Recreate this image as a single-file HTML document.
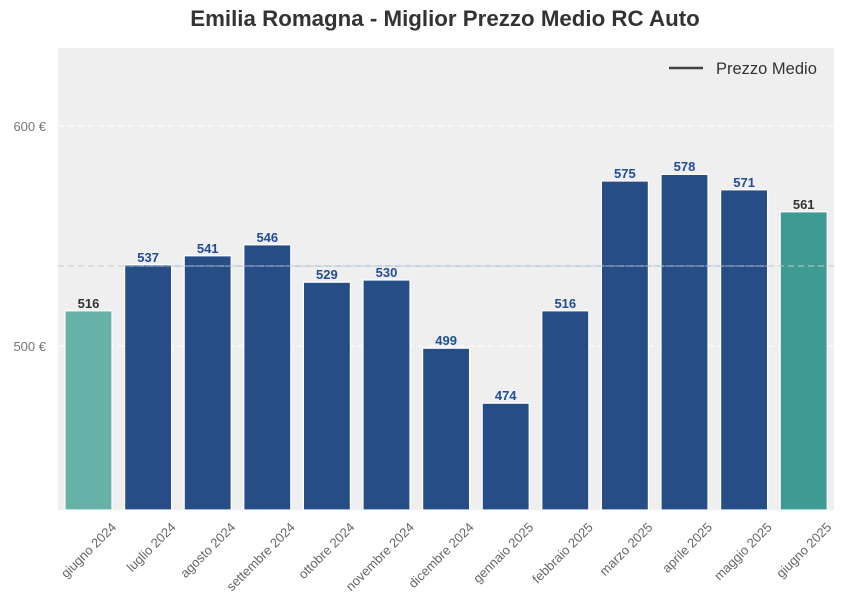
<!DOCTYPE html>
<html><head><meta charset="utf-8"><style>body{margin:0;background:#fff}svg{display:block}text{font-family:"Liberation Sans",Arial,sans-serif}</style></head>
<body>
<svg width="845" height="610" xmlns="http://www.w3.org/2000/svg">
<text x="445" y="26" text-anchor="middle" font-size="22.3" font-weight="bold" fill="#333">Emilia Romagna - Miglior Prezzo Medio RC Auto</text>
<rect x="58" y="48" width="776" height="462" fill="#efefef"/>
<line x1="58" y1="126" x2="834" y2="126" stroke="#fff" stroke-dasharray="6,4" stroke-width="1"/>
<line x1="58" y1="346" x2="834" y2="346" stroke="#fff" stroke-dasharray="6,4" stroke-width="1"/>
<text x="46" y="131" text-anchor="end" font-size="13" fill="#777">600 €</text>
<text x="46" y="351" text-anchor="end" font-size="13" fill="#777">500 €</text>
<g id="bars" stroke="#fff" stroke-width="1.2">
<rect x="65" y="310.8" width="47" height="199.2" fill="#66b2a8"/>
<rect x="124.6" y="264.6" width="47" height="245.4" fill="#264d86"/>
<rect x="184.2" y="255.8" width="47" height="254.2" fill="#264d86"/>
<rect x="243.8" y="244.8" width="47" height="265.2" fill="#264d86"/>
<rect x="303.4" y="282.2" width="47" height="227.8" fill="#264d86"/>
<rect x="363" y="280" width="47" height="230" fill="#264d86"/>
<rect x="422.6" y="348.2" width="47" height="161.8" fill="#264d86"/>
<rect x="482.2" y="403.2" width="47" height="106.8" fill="#264d86"/>
<rect x="541.8" y="310.8" width="47" height="199.2" fill="#264d86"/>
<rect x="601.4" y="181" width="47" height="329" fill="#264d86"/>
<rect x="661" y="174.4" width="47" height="335.6" fill="#264d86"/>
<rect x="720.6" y="189.8" width="47" height="320.2" fill="#264d86"/>
<rect x="780.2" y="211.8" width="47" height="298.2" fill="#3d9b93"/>
</g>
<line x1="58" y1="266" x2="834" y2="266" stroke="#c8c8c8" stroke-dasharray="6,4" stroke-width="1"/>
<line x1="124.6" y1="266" x2="767.6" y2="266" stroke="#9fb4d4" stroke-dasharray="6,4" stroke-width="1"/>
<g font-size="13" font-weight="bold" text-anchor="middle" fill="#1f4e96">
<text x="88.5" y="308" fill="#333">516</text>
<text x="148.1" y="262">537</text>
<text x="207.7" y="253">541</text>
<text x="267.3" y="242">546</text>
<text x="326.9" y="279">529</text>
<text x="386.5" y="277">530</text>
<text x="446.1" y="345">499</text>
<text x="505.7" y="400">474</text>
<text x="565.3" y="308">516</text>
<text x="624.9" y="178">575</text>
<text x="684.5" y="171">578</text>
<text x="744.1" y="187">571</text>
<text x="803.7" y="209" fill="#333">561</text>
</g>
<g font-size="13" fill="#666" text-anchor="end">
<text transform="translate(117,528) rotate(-45)">giugno 2024</text>
<text transform="translate(176.6,528) rotate(-45)">luglio 2024</text>
<text transform="translate(236.2,528) rotate(-45)">agosto 2024</text>
<text transform="translate(295.8,528) rotate(-45)">settembre 2024</text>
<text transform="translate(355.4,528) rotate(-45)">ottobre 2024</text>
<text transform="translate(415,528) rotate(-45)">novembre 2024</text>
<text transform="translate(474.6,528) rotate(-45)">dicembre 2024</text>
<text transform="translate(534.2,528) rotate(-45)">gennaio 2025</text>
<text transform="translate(593.8,528) rotate(-45)">febbraio 2025</text>
<text transform="translate(653.4,528) rotate(-45)">marzo 2025</text>
<text transform="translate(713,528) rotate(-45)">aprile 2025</text>
<text transform="translate(772.6,528) rotate(-45)">maggio 2025</text>
<text transform="translate(832.2,528) rotate(-45)">giugno 2025</text>
</g>
<line x1="669" y1="68" x2="703" y2="68" stroke="#444" stroke-width="2.5"/>
<text x="716" y="74" font-size="16.5" fill="#333">Prezzo Medio</text>
</svg>
</body></html>
